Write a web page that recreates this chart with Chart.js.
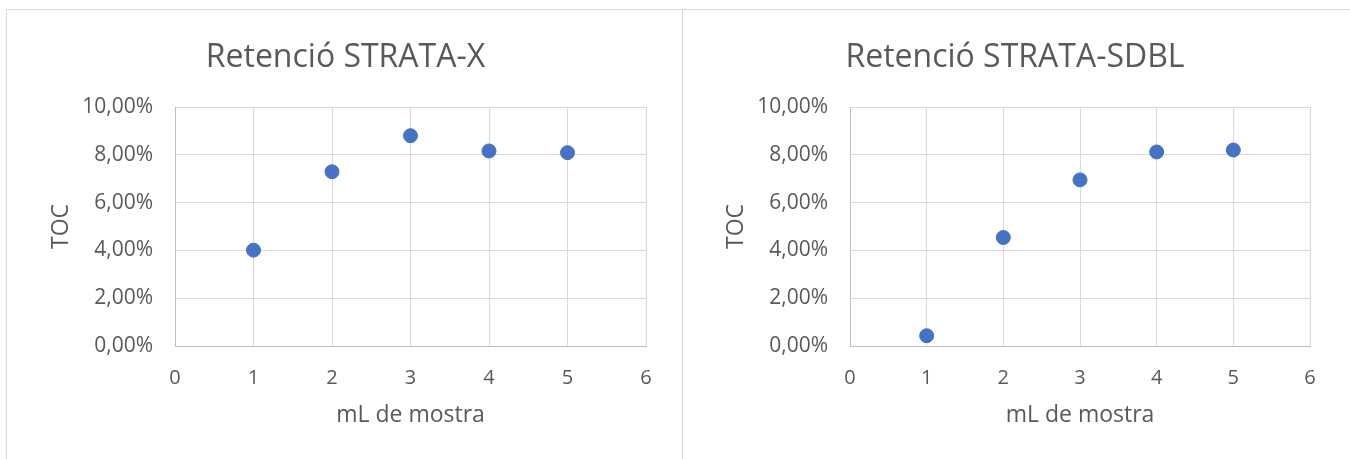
<!DOCTYPE html>
<html>
<head>
<meta charset="utf-8">
<script src="https://cdn.jsdelivr.net/npm/chart.js@4"></script>
<style>
  html, body { margin: 0; padding: 0; background: #fff; }
  body { width: 1350px; height: 459px; position: relative; overflow: hidden; }
  .panel { position: absolute; top: 9px; border-top: 1px solid #d9d9d9; background: #fff; }
  #panelX { left: 6px; width: 675px; height: 449px; border-left: 1px solid #d9d9d9; border-right: 1px solid #d9d9d9; }
  #panelSdbl { left: 683px; width: 667px; height: 449px; }
  canvas { display: block; }
</style>
</head>
<body>
<div class="panel" id="panelX"><canvas id="chartX" width="675" height="449"></canvas></div>
<div class="panel" id="panelSdbl"><canvas id="chartSdbl" width="667" height="449"></canvas></div>
<script>
// mL of sample vs TOC retention (fraction)
const mlMostra = [1, 2, 3, 4, 5];
const tocStrataX = [0.0401, 0.0729, 0.0880, 0.0816, 0.0809];
const tocStrataSdbl = [0.0043, 0.0454, 0.0695, 0.0812, 0.0820];

const titles = ['Retenció STRATA-X', 'Retenció STRATA-SDBL'];
const xTitle = 'mL de mostra';
const yTitle = 'TOC';

const textColor = '#595959';
const gridColor = '#d9d9d9';
const pointColor = '#4472C4';
const family = "'Open Sans', sans-serif";

function makeChart(id, title, values, leftPad, rightPad, yTitlePad) {
  const ctx = document.getElementById(id);
  return new Chart(ctx, {
    type: 'scatter',
    data: {
      datasets: [{
        label: title,
        data: mlMostra.map((x, i) => ({ x: x, y: values[i] })),
        backgroundColor: pointColor,
        borderColor: pointColor,
        pointRadius: 7,
        pointBorderWidth: 1,
      }]
    },
    options: {
      responsive: false,
      animation: false,
      devicePixelRatio: 1,
      layout: { padding: { left: leftPad, right: rightPad, top: 0, bottom: 0 } },
      plugins: {
        legend: { display: false },
        tooltip: { enabled: false },
        title: {
          display: true,
          text: title,
          color: textColor,
          font: { family: family, size: 32, weight: 'normal' },
          padding: { top: 29, bottom: 29.6 }
        }
      },
      scales: {
        x: {
          type: 'linear',
          min: 0,
          max: 6,
          grid: { color: gridColor, drawTicks: false },
          border: { color: '#bfbfbf' },
          ticks: {
            stepSize: 1,
            color: textColor,
            padding: 20,
            font: { family: family, size: 20 }
          },
          title: {
            display: true,
            text: xTitle,
            color: textColor,
            font: { family: family, size: 23 },
            padding: { top: 0, bottom: 30 }
          },
          afterFit: (scale) => { scale.height = 113; }
        },
        y: {
          min: 0,
          max: 0.1,
          grid: { color: gridColor, drawTicks: false },
          border: { color: '#bfbfbf' },
          ticks: {
            stepSize: 0.02,
            color: textColor,
            padding: 22,
            font: { family: family, size: 21 },
            callback: (v) => (v * 100).toFixed(2).replace('.', ',') + '%'
          },
          title: {
            display: true,
            text: yTitle,
            color: textColor,
            font: { family: family, size: 23 },
            padding: { top: yTitlePad, bottom: 0 }
          },
          afterFit: (scale) => { scale.width = 130; }
        }
      }
    }
  });
}

makeChart('chartX', titles[0], tocStrataX, 38, 36, 3);
makeChart('chartSdbl', titles[1], tocStrataSdbl, 37, 40, 3);
</script>
</body>
</html>
